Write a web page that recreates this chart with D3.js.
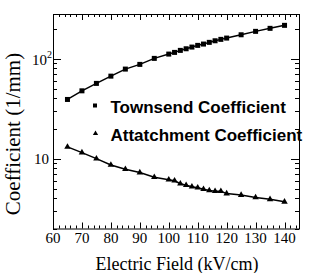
<!DOCTYPE html>
<html>
<head>
<meta charset="utf-8">
<script src="https://cdn.jsdelivr.net/npm/d3@7"></script>
<style>
  body { margin: 0; background: #fff; }
  svg { display: block; }
</style>
</head>
<body>
<div id="chart"></div>
<script>
// electric field values (kV/cm)
var fields = [65, 70, 75, 80, 85, 90, 95, 100, 102, 104, 106, 108, 110, 112, 114, 116, 118, 120, 125, 130, 135, 140];
// coefficients (1/mm)
var townsend = [39.1, 47.7, 56.6, 66.9, 78.7, 87.7, 100.7, 111.2, 115.6, 121.1, 125.7, 130.7, 135.9, 140.1, 145.7, 151.1, 156.1, 160.8, 173.5, 187.7, 201.2, 215.6];
var attachment = [13.1, 11.5, 10.0, 8.65, 7.84, 7.26, 6.52, 6.15, 6.01, 5.61, 5.42, 5.24, 5.12, 4.94, 4.80, 4.72, 4.72, 4.47, 4.32, 4.09, 3.92, 3.70];
var xTicks = [60, 70, 80, 90, 100, 110, 120, 130, 140];
var legendLabels = ["Townsend Coefficient", "Attatchment Coefficient"];

var W = 316, H = 273;
var margin = {left: 53, top: 14, right: 17, bottom: 44.5};
var width = W - margin.left - margin.right,
    height = H - margin.top - margin.bottom;

var serif = "'Liberation Serif'";
var sans = "'Liberation Sans'";

var svg = d3.select("#chart").append("svg")
    .attr("width", W)
    .attr("height", H);

var g = svg.append("g")
    .attr("transform", `translate(${margin.left},${margin.top})`);

var x = d3.scaleLinear().domain([60, 145]).range([0, width]);
var y = d3.scaleLog().domain([2, 280]).range([height, 0]);

// minor ticks
var xMinor = d3.range(60, 146, 2).filter(v => v % 10 !== 0);
var yMinor = [];
[1, 10, 100].forEach(function(dec) {
  for (var k = 2; k <= 9; k++) {
    var v = dec * k;
    if (v >= 2 && v <= 280) yMinor.push(v);
  }
});
var yMajor = [10, 100];

var ticks = g.append("g").attr("stroke", "#000").attr("stroke-width", 1);

function xTick(v, len) {
  var px = Math.round(x(v)) + 0.5;
  ticks.append("line").attr("x1", px).attr("x2", px).attr("y1", height).attr("y2", height - len);
  ticks.append("line").attr("x1", px).attr("x2", px).attr("y1", 0).attr("y2", len);
}
function yTick(v, len) {
  var py = Math.round(y(v)) + 0.5;
  ticks.append("line").attr("y1", py).attr("y2", py).attr("x1", 0).attr("x2", len);
  ticks.append("line").attr("y1", py).attr("y2", py).attr("x1", width).attr("x2", width - len);
}
xTicks.forEach(v => xTick(v, 6));
xMinor.forEach(v => xTick(v, 3));
yMajor.forEach(v => yTick(v, 8));
yMinor.forEach(v => yTick(v, 4));

// frame
g.append("rect")
    .attr("x", 0.5).attr("y", 0.5)
    .attr("width", width).attr("height", height)
    .attr("fill", "none")
    .attr("stroke", "#000");

// x tick labels
g.selectAll(".xlab").data(xTicks).enter().append("text")
    .attr("class", "xlab")
    .attr("x", d => x(d))
    .attr("y", height + 14.5)
    .attr("text-anchor", "middle")
    .attr("font-family", serif)
    .attr("font-size", 15)
    .text(d => d);

// y tick labels
g.append("text")
    .attr("x", -4).attr("y", y(10) + 5)
    .attr("text-anchor", "end")
    .attr("font-family", serif)
    .attr("font-size", 15)
    .text("10");
var t2 = g.append("text")
    .attr("x", -1).attr("y", y(100) + 6)
    .attr("text-anchor", "end")
    .attr("font-family", serif)
    .attr("font-size", 15);
t2.append("tspan").text("10");
t2.append("tspan").attr("dy", -7).attr("font-size", 10).text("2");

// axis titles
svg.append("text")
    .attr("x", 177).attr("y", 270)
    .attr("text-anchor", "middle")
    .attr("font-family", serif)
    .attr("font-size", 18)
    .text("Electric Field (kV/cm)");

svg.append("text")
    .attr("transform", "translate(20,134) rotate(-90)")
    .attr("text-anchor", "middle")
    .attr("font-family", serif)
    .attr("font-size", 21)
    .text("Coefficient (1/mm)");

// curves
var line = d3.line()
    .x((d, i) => x(fields[i]))
    .y(d => y(d));

g.append("path").datum(townsend)
    .attr("d", line)
    .attr("fill", "none").attr("stroke", "#000").attr("stroke-width", 1.5);
g.append("path").datum(attachment)
    .attr("d", line)
    .attr("fill", "none").attr("stroke", "#000").attr("stroke-width", 1.5);

g.selectAll(".sq").data(townsend).enter().append("rect")
    .attr("class", "sq")
    .attr("x", (d, i) => x(fields[i]) - 2.5)
    .attr("y", d => y(d) - 2.5)
    .attr("width", 5).attr("height", 5)
    .attr("fill", "#000");

var tri = d3.symbol().type(d3.symbolTriangle).size(18);
g.selectAll(".tri").data(attachment).enter().append("path")
    .attr("class", "tri")
    .attr("transform", (d, i) => `translate(${x(fields[i])},${y(d)})`)
    .attr("d", tri)
    .attr("fill", "#000");

// legend
svg.append("rect")
    .attr("x", 93).attr("y", 103.5).attr("width", 4).attr("height", 4)
    .attr("fill", "#000");
svg.append("path")
    .attr("transform", "translate(95.5,133.5)")
    .attr("d", d3.symbol().type(d3.symbolTriangle).size(12))
    .attr("fill", "#000");
svg.selectAll(".leg").data(legendLabels).enter().append("text")
    .attr("class", "leg")
    .attr("x", 110.5)
    .attr("y", (d, i) => 113.3 + i * 27.4)
    .attr("font-family", sans)
    .attr("font-weight", "bold")
    .attr("font-size", 17)
    .text(d => d);
</script>
</body>
</html>
